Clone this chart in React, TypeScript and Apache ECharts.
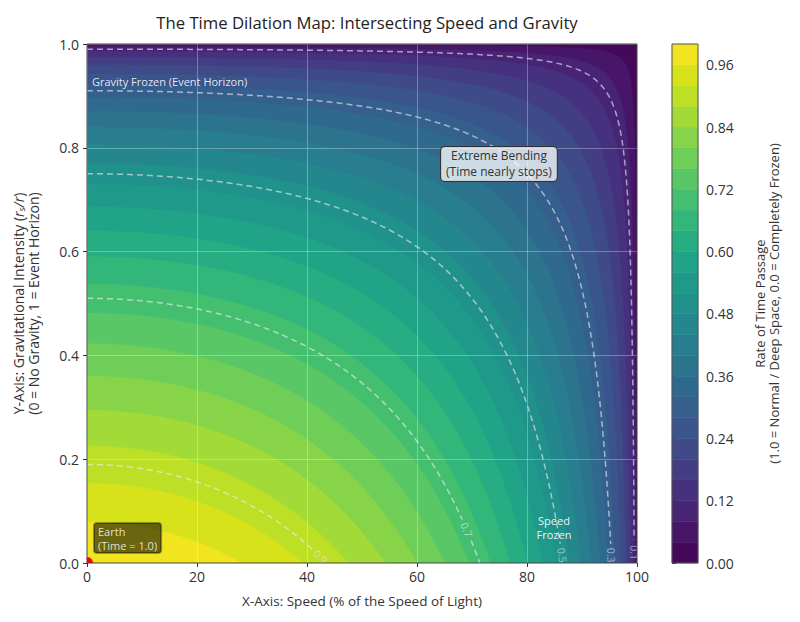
import React, { useEffect, useRef } from "react";
import * as echarts from "echarts";

// ---------- data ----------
const bandLevels = [
  0, 0.04, 0.08, 0.12, 0.16, 0.2, 0.24, 0.28, 0.32, 0.36, 0.4, 0.44, 0.48,
  0.52, 0.56, 0.6, 0.64, 0.68, 0.72, 0.76, 0.8, 0.84, 0.88, 0.92, 0.96, 1.0,
];
const dashedLevels = [0.9, 0.7, 0.5, 0.3, 0.1];
const dashedLabelGravity = [0.012, 0.064, 0.015, 0.015, 0.02];
const xTicks = [0, 20, 40, 60, 80, 100];
const yTicks = [0, 0.2, 0.4, 0.6, 0.8, 1.0];
const colorbarTicks = [0, 0.12, 0.24, 0.36, 0.48, 0.6, 0.72, 0.84, 0.96];
const earthPoint = [[0, 0]];

const viridisStops = [
  "#440154", "#471365", "#482475", "#463480", "#414487", "#3b528b", "#355f8d",
  "#2f6c8e", "#2a788e", "#25848e", "#21918c", "#1e9c89", "#22a884", "#2fb47c",
  "#44bf70", "#5ec962", "#7ad151", "#9bd93c", "#bddf26", "#dfe318", "#fde725",
];

const FONT = "'Open Sans', sans-serif";

const annotationSpecs = [
  {
    text: "Gravity Frozen (Event Horizon)",
    at: [0.9, 0.927],
    style: { fill: "rgba(255,255,255,0.88)", font: `11px ${FONT}`, align: "left", verticalAlign: "middle" },
  },
  {
    text: "Extreme Bending\n(Time nearly stops)",
    at: [74.9, 0.769],
    style: {
      fill: "#333333", font: `12px ${FONT}`, align: "center", verticalAlign: "middle", lineHeight: 16,
      backgroundColor: "rgba(255,255,255,0.76)", borderColor: "#333333", borderWidth: 1, borderRadius: 4, padding: [1, 5],
    },
  },
  {
    text: "Speed\nFrozen",
    at: [84.9, 0.069],
    style: { fill: "rgba(255,255,255,0.92)", font: `11px ${FONT}`, align: "center", verticalAlign: "middle", lineHeight: 14 },
  },
  {
    text: "Earth\n(Time = 1.0)",
    at: [1.27, 0.077],
    style: {
      fill: "rgba(255,255,255,0.82)", font: `11px ${FONT}`, align: "left", verticalAlign: "top", lineHeight: 14,
      backgroundColor: "rgba(0,0,0,0.56)", borderColor: "rgba(0,0,0,0.35)", borderWidth: 1, borderRadius: 3, padding: [1, 4],
    },
  },
];

// ---------- helpers ----------
function hexToRgb(h: string) {
  const n = parseInt(h.slice(1), 16);
  return [(n >> 16) & 255, (n >> 8) & 255, n & 255];
}
function viridis(t: number) {
  const s = Math.max(0, Math.min(1, t)) * (viridisStops.length - 1);
  const i = Math.min(Math.floor(s), viridisStops.length - 2);
  const f = s - i;
  const a = hexToRgb(viridisStops[i]);
  const b = hexToRgb(viridisStops[i + 1]);
  const c = a.map((v, k) => Math.round(v + (b[k] - v) * f));
  return `rgb(${c[0]},${c[1]},${c[2]})`;
}

// iso-line of time rate L: gravity y reachable at speed v (fraction of c)
function levelCurve(L: number, n = 140): number[][] {
  if (L <= 0) return [[0, 1], [100, 1], [100, 0]];
  const L2 = L * L;
  const vmax = Math.sqrt(1 - L2);
  const ymax = 1 - L2;
  const pts: number[][] = [];
  for (let i = 0; i <= n; i++) {
    const v = (vmax * i) / n;
    const y = i === n ? 0 : 1 - L2 / (1 - v * v);
    pts.push([v * 100, Math.max(0, y)]);
  }
  for (let j = 0; j <= n; j++) {
    const y = (ymax * j) / n;
    const v = j === n ? 0 : Math.sqrt(Math.max(0, 1 - L2 / (1 - y)));
    pts.push([v * 100, y]);
  }
  pts.sort((a, b) => a[0] - b[0] || b[1] - a[1]);
  return pts;
}

export default function App() {
  const ref = useRef<HTMLDivElement>(null);

  useEffect(() => {
    document.body.style.margin = "0";
    if (!ref.current) return;
    const chart = echarts.init(ref.current, undefined, { renderer: "svg" });

    const bandData = bandLevels.slice(0, -1).map((L) => [0, L]);

    const option: any = {
      animation: false,
      backgroundColor: "#ffffff",
      title: {
        text: "The Time Dilation Map: Intersecting Speed and Gravity",
        left: 362,
        top: 9,
        textAlign: "center",
        textStyle: { fontFamily: FONT, fontSize: 16.7, fontWeight: "normal", color: "#222222" },
      },
      grid: [
        { left: 87, top: 44, width: 550, height: 519, containLabel: false, outerBoundsMode: "none" },
        { left: 672, top: 44, width: 26, height: 519, containLabel: false, outerBoundsMode: "none" },
      ],
      xAxis: [
        {
          gridIndex: 0, type: "value", min: 0, max: 100, interval: 20, z: 3,
          axisLine: { show: false },
          axisTick: { show: true, length: 4, lineStyle: { color: "#333333" } },
          axisLabel: { color: "#333333", fontSize: 14, fontFamily: FONT, margin: 6, customValues: xTicks },
          splitLine: { show: true, lineStyle: { color: "rgba(255,255,255,0.3)", width: 1 } },
          name: "X-Axis: Speed (% of the Speed of Light)",
          nameLocation: "middle",
          nameGap: 31,
          nameTextStyle: { fontFamily: FONT, fontSize: 13.5, color: "#333333" },
        },
        { gridIndex: 1, type: "value", min: 0, max: 1, show: false },
      ],
      yAxis: [
        {
          gridIndex: 0, type: "value", min: 0, max: 1, interval: 0.2, z: 3,
          axisLine: { show: false },
          axisTick: { show: true, length: 4, lineStyle: { color: "#333333" } },
          axisLabel: {
            color: "#333333", fontSize: 14, fontFamily: FONT, margin: 8, customValues: yTicks,
            formatter: (v: number) => v.toFixed(1),
          },
          splitLine: { show: true, lineStyle: { color: "rgba(255,255,255,0.3)", width: 1 } },
          name: "{n|Y-Axis: Gravitational Intensity (}{i|r}{s|s}{i|/r}{n|)}\n{n|(0 = No Gravity, 1 = Event Horizon)}",
          nameLocation: "middle",
          nameRotate: 90,
          nameGap: 46,
          nameTextStyle: {
            fontFamily: FONT, fontSize: 14, color: "#333333", lineHeight: 15,
            rich: {
              n: { fontFamily: FONT, fontSize: 14, color: "#333333", lineHeight: 15 },
              i: { fontFamily: FONT, fontSize: 14, fontStyle: "italic", color: "#333333", lineHeight: 15 },
              s: { fontFamily: FONT, fontSize: 9.5, fontStyle: "italic", color: "#333333", lineHeight: 9, verticalAlign: "bottom" },
            },
          },
        },
        {
          gridIndex: 1, type: "value", min: 0, max: 1, position: "right",
          axisLine: { show: false },
          axisTick: { show: true, length: 4, lineStyle: { color: "#333333" }, customValues: colorbarTicks },
          axisLabel: {
            color: "#333333", fontSize: 14, fontFamily: FONT, margin: 8, customValues: colorbarTicks,
            formatter: (v: number) => v.toFixed(2),
          },
          splitLine: { show: false },
          name: "Rate of Time Passage\n(1.0 = Normal / Deep Space, 0.0 = Completely Frozen)",
          nameLocation: "middle",
          nameRotate: 90,
          nameGap: 55,
          nameTextStyle: { fontFamily: FONT, fontSize: 13, color: "#333333", lineHeight: 14 },
        },
      ],
      series: [
        // filled contour bands
        {
          type: "custom",
          xAxisIndex: 0, yAxisIndex: 0, z: 1, clip: true, silent: true,
          data: bandData,
          renderItem: (params: any, api: any) => {
            const k = params.dataIndex;
            const L = bandLevels[k];
            const mid = (bandLevels[k] + bandLevels[k + 1]) / 2;
            const curve = levelCurve(L).map((p) => api.coord(p));
            const pts = [api.coord([0, 0]), ...curve];
            return { type: "polygon", shape: { points: pts }, style: { fill: viridis(mid), stroke: viridis(mid), lineWidth: 0.5 } };
          },
        },
        // dashed labelled contours
        {
          type: "custom",
          xAxisIndex: 0, yAxisIndex: 0, z: 4, clip: true, silent: true,
          data: dashedLevels.map((L, i) => [L, dashedLabelGravity[i]]),
          renderItem: (params: any, api: any) => {
            const L = dashedLevels[params.dataIndex];
            const ly = dashedLabelGravity[params.dataIndex];
            const pts = levelCurve(L, 200).map((p) => api.coord(p));
            const vAt = (y: number) => 100 * Math.sqrt(1 - (L * L) / (1 - y));
            const c = api.coord([vAt(ly), ly]);
            const a = api.coord([vAt(ly + 0.006), ly + 0.006]);
            const b = api.coord([vAt(Math.max(0, ly - 0.006)), Math.max(0, ly - 0.006)]);
            const ang = Math.atan2(b[1] - a[1], b[0] - a[0]);
            const gap = 11;
            const segs: number[][][] = [];
            let cur: number[][] = [];
            for (const p of pts) {
              const d = Math.hypot(p[0] - c[0], p[1] - c[1]);
              if (d < gap) {
                if (cur.length > 1) segs.push(cur);
                cur = [];
              } else cur.push(p);
            }
            if (cur.length > 1) segs.push(cur);
            const children: any[] = segs.map((s) => ({
              type: "polyline",
              shape: { points: s },
              style: { stroke: "rgba(235,235,245,0.62)", lineWidth: 1.5, lineDash: [6, 4], fill: null },
            }));
            children.push({
              type: "text",
              x: c[0], y: c[1], rotation: -ang,
              style: { text: L.toFixed(1), fill: "rgba(235,235,245,0.62)", font: `10.5px ${FONT}`, align: "center", verticalAlign: "middle" },
            });
            return { type: "group", children };
          },
        },
        // Earth marker
        {
          type: "custom",
          xAxisIndex: 0, yAxisIndex: 0, z: 5, clip: true, silent: true,
          data: earthPoint,
          renderItem: (params: any, api: any) => {
            const p = api.coord([api.value(0), api.value(1)]);
            return { type: "circle", shape: { cx: p[0], cy: p[1], r: 6 }, style: { fill: "#ff0000" } };
          },
        },
        // plot frame
        {
          type: "custom",
          xAxisIndex: 0, yAxisIndex: 0, z: 6, clip: false, silent: true,
          data: [[0, 0]],
          renderItem: (params: any, api: any) => {
            const p0 = api.coord([0, 0]);
            const p1 = api.coord([100, 1]);
            return {
              type: "rect",
              shape: { x: p0[0], y: p1[1], width: p1[0] - p0[0], height: p0[1] - p1[1] },
              style: { fill: null, stroke: "#444444", lineWidth: 1 },
            };
          },
        },
        // annotations
        {
          type: "custom",
          xAxisIndex: 0, yAxisIndex: 0, z: 7, clip: false, silent: true,
          data: annotationSpecs.map((a) => a.at),
          renderItem: (params: any, api: any) => {
            const spec = annotationSpecs[params.dataIndex];
            const p = api.coord(spec.at);
            return { type: "text", x: p[0], y: p[1], style: { text: spec.text, ...spec.style } };
          },
        },
        // colorbar
        {
          type: "custom",
          xAxisIndex: 1, yAxisIndex: 1, z: 2, silent: true,
          data: bandData,
          renderItem: (params: any, api: any) => {
            const k = params.dataIndex;
            const mid = (bandLevels[k] + bandLevels[k + 1]) / 2;
            const p0 = api.coord([0, bandLevels[k]]);
            const p1 = api.coord([1, bandLevels[k + 1]]);
            return {
              type: "rect",
              shape: { x: p0[0], y: p1[1], width: p1[0] - p0[0], height: p0[1] - p1[1] },
              style: { fill: viridis(mid), stroke: viridis(mid), lineWidth: 0.5 },
            };
          },
        },
        {
          type: "custom",
          xAxisIndex: 1, yAxisIndex: 1, z: 3, silent: true,
          data: [[0, 0]],
          renderItem: (params: any, api: any) => {
            const p0 = api.coord([0, 0]);
            const p1 = api.coord([1, 1]);
            return {
              type: "rect",
              shape: { x: p0[0], y: p1[1], width: p1[0] - p0[0], height: p0[1] - p1[1] },
              style: { fill: null, stroke: "#555555", lineWidth: 1 },
            };
          },
        },
      ],
    };

    chart.setOption(option);
    return () => chart.dispose();
  }, []);

  return <div ref={ref} style={{ width: 800, height: 622 }} />;
}
